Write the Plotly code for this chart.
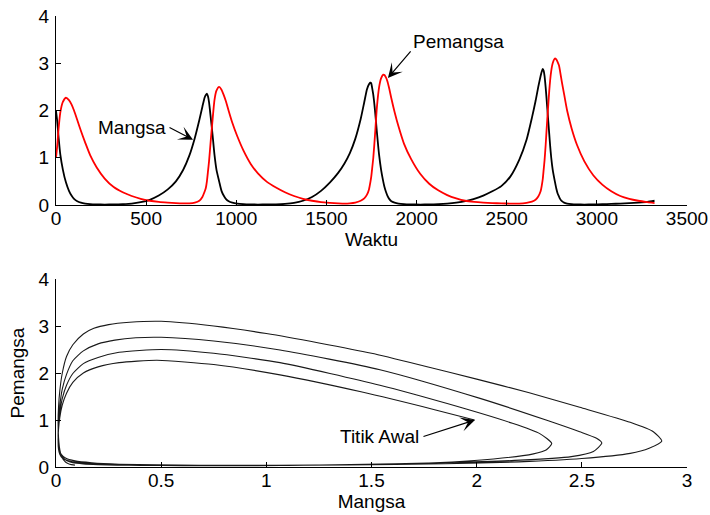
import plotly.graph_objects as go

# ---- data ----
waktu = [0, 6, 14, 24, 38, 55, 72, 86, 100, 118, 138, 162, 190, 225, 270, 320, 370, 420, 470, 520,
         570, 620, 665, 705, 740, 770, 795, 812, 824, 831, 837, 843, 849, 858, 867, 879, 890, 905, 918, 930,
         942, 958, 978, 1005, 1040, 1080, 1120, 1170, 1220, 1270, 1320, 1370, 1420, 1470, 1520, 1565, 1600, 1630, 1660, 1690,
         1710, 1725, 1736, 1745, 1749, 1753, 1760, 1769, 1780, 1792, 1803, 1815, 1822, 1830, 1838, 1848, 1860, 1878, 1900, 1930,
         1970, 2020, 2070, 2120, 2170, 2220, 2270, 2320, 2370, 2420, 2470, 2520, 2570, 2610, 2640, 2660, 2675, 2688, 2694, 2700,
         2705, 2710, 2716, 2721, 2726, 2731, 2736, 2741, 2747, 2755, 2767, 2775, 2782, 2790, 2796, 2806, 2818, 2835, 2860, 2890,
         2930, 2980, 3030, 3080, 3130, 3180, 3230, 3280, 3320]

mangsa = [1.99, 1.80, 1.45, 1.065, 0.75, 0.48, 0.30, 0.20, 0.13, 0.08, 0.05, 0.03, 0.018, 0.012, 0.010, 0.012, 0.018, 0.03, 0.06, 0.11,
          0.20, 0.33, 0.50, 0.74, 1.05, 1.42, 1.80, 2.08, 2.27, 2.33, 2.357, 2.30, 2.17, 1.86, 1.54, 1.065, 0.75, 0.50, 0.30, 0.20,
          0.13, 0.08, 0.05, 0.03, 0.018, 0.012, 0.010, 0.012, 0.015, 0.025, 0.045, 0.09, 0.17, 0.30, 0.48, 0.68, 0.88, 1.10, 1.40, 1.82,
          2.18, 2.45, 2.555, 2.595, 2.57, 2.49, 2.33, 2.016, 1.54, 1.065, 0.75, 0.50, 0.38, 0.28, 0.20, 0.13, 0.08, 0.05, 0.03, 0.018,
          0.012, 0.010, 0.012, 0.018, 0.03, 0.05, 0.08, 0.13, 0.20, 0.29, 0.40, 0.60, 0.96, 1.38, 1.85, 2.20, 2.50, 2.73, 2.82, 2.88,
          2.84, 2.73, 2.49, 2.25, 2.00, 1.75, 1.50, 1.25, 1.00, 0.75, 0.50, 0.35, 0.25, 0.18, 0.13, 0.08, 0.05, 0.03, 0.018, 0.012,
          0.010, 0.012, 0.016, 0.022, 0.03, 0.04, 0.05, 0.065, 0.09]

pemangsa = [1.00, 1.22, 1.60, 1.96, 2.18, 2.27, 2.22, 2.13, 2.00, 1.80, 1.57, 1.32, 1.05, 0.80, 0.56, 0.38, 0.27, 0.19, 0.13, 0.09,
            0.065, 0.05, 0.04, 0.035, 0.035, 0.05, 0.09, 0.17, 0.28, 0.36, 0.50, 0.71, 0.93, 1.35, 1.74, 2.22, 2.42, 2.50, 2.44, 2.33,
            2.20, 1.99, 1.74, 1.46, 1.15, 0.87, 0.67, 0.49, 0.37, 0.27, 0.19, 0.13, 0.09, 0.06, 0.045, 0.035, 0.03, 0.035, 0.05, 0.09,
            0.14, 0.22, 0.33, 0.51, 0.61, 0.75, 1.00, 1.46, 2.07, 2.49, 2.68, 2.76, 2.75, 2.70, 2.62, 2.47, 2.26, 1.97, 1.66, 1.30,
            0.97, 0.66, 0.45, 0.31, 0.21, 0.14, 0.09, 0.065, 0.05, 0.04, 0.035, 0.03, 0.03, 0.045, 0.07, 0.11, 0.18, 0.29, 0.40, 0.55,
            0.75, 0.95, 1.27, 1.58, 1.87, 2.15, 2.42, 2.64, 2.84, 3.00, 3.10, 3.08, 3.03, 2.95, 2.83, 2.60, 2.35, 2.00, 1.62, 1.27,
            0.93, 0.63, 0.43, 0.29, 0.19, 0.13, 0.09, 0.06, 0.04]

waktu_ticks = [0, 500, 1000, 1500, 2000, 2500, 3000, 3500]
mangsa_ticks = [0, 0.5, 1, 1.5, 2, 2.5, 3]
nilai_ticks = [0, 1, 2, 3, 4]

FONT = "Liberation Sans, Arial, sans-serif"
FS = 19

# plot area: x 56..687, y 16..467 (pixels)
L, R, T, B = 56, 710 - 687, 16, 515 - 467
H = 467 - 16

fig = go.Figure()
fig.add_trace(go.Scatter(x=waktu, y=mangsa, mode="lines", name="Mangsa",
                         line=dict(color="#000000", width=1.8, shape="spline", smoothing=0.6),
                         xaxis="x", yaxis="y", showlegend=False))
fig.add_trace(go.Scatter(x=waktu, y=pemangsa, mode="lines", name="Pemangsa",
                         line=dict(color="#ff0000", width=1.8, shape="spline", smoothing=0.6),
                         xaxis="x", yaxis="y", showlegend=False))
fig.add_trace(go.Scatter(x=mangsa, y=pemangsa, mode="lines", name="Fase",
                         line=dict(color="#1a1a1a", width=1.1, shape="spline", smoothing=0.6),
                         xaxis="x2", yaxis="y2", showlegend=False))

axis_common = dict(showline=True, linecolor="black", linewidth=1, ticks="inside", ticklen=5,
                   tickcolor="black", tickwidth=1, showgrid=False, zeroline=False, mirror=False,
                   automargin=False, tickfont=dict(family=FONT, size=FS, color="black"))

fig.update_layout(
    width=710, height=515,
    margin=dict(l=L, r=R, t=T, b=B, autoexpand=False),
    paper_bgcolor="white", plot_bgcolor="white",
    font=dict(family=FONT, size=FS, color="black"),
    xaxis=dict(domain=[0, 1], range=[0, 3500], tickvals=waktu_ticks, anchor="y", ticklabelstandoff=-4,
               title=dict(text="Waktu", standoff=2, font=dict(family=FONT, size=FS)), **axis_common),
    yaxis=dict(domain=[(467 - 205) / H, 1], range=[0, 4], tickvals=nilai_ticks, anchor="x",
               ticklabelstandoff=2, **axis_common),
    xaxis2=dict(domain=[0, 1], range=[0, 3], tickvals=mangsa_ticks, anchor="y2", ticklabelstandoff=-4,
                title=dict(text="Mangsa", standoff=2, font=dict(family=FONT, size=FS)), **axis_common),
    yaxis2=dict(domain=[0, (467 - 279) / H], range=[0, 4], tickvals=nilai_ticks, anchor="x2",
                ticklabelstandoff=2,
                title=dict(text="Pemangsa", standoff=8, font=dict(family=FONT, size=FS)), **axis_common),
)

arrow_style = dict(showarrow=True, arrowhead=3, arrowsize=2.0, arrowwidth=1.2, arrowcolor="black", text="")
fig.add_annotation(x=760, y=1.38, xref="x", yref="y", ax=-25, ay=-13, **arrow_style)
fig.add_annotation(x=1841, y=2.69, xref="x", yref="y", ax=24, ay=-28, **arrow_style)
fig.add_annotation(x=1.992, y=1.0, xref="x2", yref="y2", ax=-53, ay=17, **arrow_style)

txt = dict(showarrow=False, font=dict(family=FONT, size=FS, color="black"))
fig.add_annotation(x=421, y=1.63, xref="x", yref="y", text="Mangsa", **txt)
fig.add_annotation(x=2235, y=3.45, xref="x", yref="y", text="Pemangsa", **txt)
fig.add_annotation(x=1.536, y=0.64, xref="x2", yref="y2", text="Titik Awal", **txt)

fig.write_html("out.html")
